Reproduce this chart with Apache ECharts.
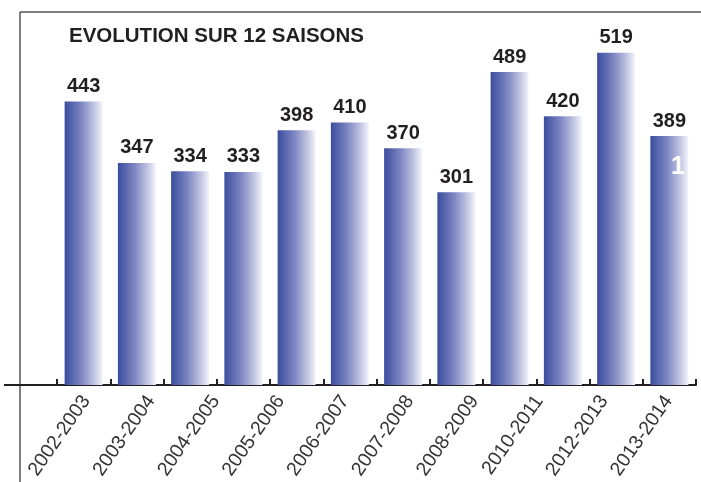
<!DOCTYPE html>
<html>
<head>
<meta charset="utf-8">
<script src="https://cdn.jsdelivr.net/npm/echarts@6/dist/echarts.min.js"></script>
<style>
  html, body { margin: 0; padding: 0; background: #fff; }
  #chart { width: 701px; height: 482px; }
</style>
</head>
<body>
<div id="chart"></div>
<script>
// 12 saisons (barres)
var seasons = ['2002-2003', '2003-2004', '2004-2005', '2005-2006', '2006-2007', '2007-2008',
  '2008-2009', '2009-2010', '2010-2011', '2011-2012', '2012-2013', '2013-2014'];
var values = [443, 347, 334, 333, 398, 410, 370, 301, 489, 420, 519, 389];
// libellés imprimés sous l'axe (10 seulement sur l'original)
var tickLabels = ['2002-2003', '2003-2004', '2004-2005', '2005-2006', '2006-2007',
  '2007-2008', '2008-2009', '2010-2011', '2012-2013', '2013-2014'];

var ink = '#231f20';

var barGradient = new echarts.graphic.LinearGradient(0, 0, 1, 0, [
  { offset: 0, color: '#3a4c9d' },
  { offset: 0.45, color: '#7f88c3' },
  { offset: 0.8, color: '#c5c9e4' },
  { offset: 1, color: '#f3f4fa' }
]);

var chart = echarts.init(document.getElementById('chart'));

chart.setOption({
  animation: false,
  backgroundColor: '#fff',
  title: {
    text: 'EVOLUTION SUR 12 SAISONS',
    left: 64,
    top: 21,
    textStyle: {
      fontFamily: 'Liberation Sans',
      fontWeight: 'bold',
      fontSize: 20.5,
      color: ink
    }
  },
  grid: [
    { left: 57, right: 5, top: 33, bottom: 97 },   // barres
    { left: 54, right: -6, top: 33, bottom: 97 }   // libellés décalés
  ],
  xAxis: [{
    type: 'category',
    gridIndex: 0,
    data: seasons,
    boundaryGap: true,
    axisLine: { show: true, lineStyle: { color: ink, width: 2 } },
    axisTick: { show: true, inside: true, length: 6, interval: 0, lineStyle: { color: ink, width: 2 } },
    axisLabel: { show: false },
    splitLine: { show: false }
  }, {
    type: 'category',
    gridIndex: 1,
    data: tickLabels,
    axisLine: { show: false },
    axisTick: { show: false },
    axisLabel: {
      show: true,
      interval: 0,
      rotate: 55,
      margin: 13,
      fontFamily: 'Liberation Sans',
      fontSize: 19.5,
      color: '#333'
    },
    splitLine: { show: false }
  }],
  yAxis: [{
    type: 'value',
    gridIndex: 0,
    min: 0,
    max: 550,
    show: false
  }, {
    type: 'value',
    gridIndex: 1,
    min: 0,
    max: 550,
    show: false
  }],
  series: [{
    type: 'bar',
    xAxisIndex: 0,
    yAxisIndex: 0,
    data: values,
    barWidth: 38,
    itemStyle: { color: barGradient },
    label: {
      show: true,
      position: 'top',
      distance: 5,
      formatter: '{c}',
      fontFamily: 'Liberation Sans',
      fontWeight: 'bold',
      fontSize: 20,
      color: ink
    }
  }],
  graphic: [
    // cadre
    { type: 'line', shape: { x1: 20, y1: 12, x2: 701, y2: 12 }, style: { stroke: '#555', lineWidth: 1.5 }, z: 10 },
    { type: 'line', shape: { x1: 20, y1: 12, x2: 20, y2: 482 }, style: { stroke: '#555', lineWidth: 1.5 }, z: 10 },
    // prolongement de l'axe
    { type: 'line', shape: { x1: 4, y1: 385, x2: 57, y2: 385 }, style: { stroke: ink, lineWidth: 2 }, z: 10 },
    // "1" blanc sur la dernière barre
    { type: 'text', left: 671, top: 155, z: 20,
      style: { text: '1', fill: '#fff', font: 'bold 25px "Liberation Sans"' } }
  ]
});
</script>
</body>
</html>
